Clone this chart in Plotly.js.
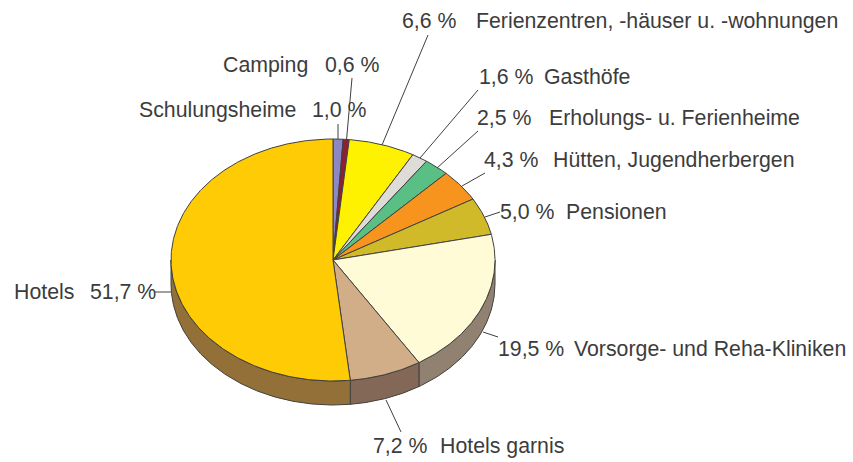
<!DOCTYPE html>
<html><head><meta charset="utf-8">
<script src="https://cdn.plot.ly/plotly-3.0.1.min.js"></script>
<style>html,body{margin:0;padding:0;background:#fff}#c{width:853px;height:462px}</style>
</head><body><div id="c"></div>
<script>
const categories = ["Schulungsheime","Camping","Ferienzentren, -häuser u. -wohnungen","Gasthöfe","Erholungs- u. Ferienheime","Hütten, Jugendherbergen","Pensionen","Vorsorge- und Reha-Kliniken","Hotels garnis","Hotels"];
const values = [1.0,0.6,6.6,1.6,2.5,4.3,5.0,19.5,7.2,51.7];
const valueLabels = ["1,0 %","0,6 %","6,6 %","1,6 %","2,5 %","4,3 %","5,0 %","19,5 %","7,2 %","51,7 %"];

const topColors = ["#8d88c4","#8e2035","#fff200","#dfdbd7","#5abf85","#f7941d","#d0ba2a","#fffbd6","#d2ae88","#ffcb05"];
const sideColors = ["#6a6693","#6a1828","#bfb500","#a7a4a1","#438f64","#b96f16","#9c8c20","#918170","#836857","#937038"];
const lineColor = "#404040", textColor = "#3c3c3c";

// Layout of the pie and label placement, in page pixels
const cx = 333, cy = 260, rx = 162, ry = 121, depth = 24;
const catX = [138,222,475,543,548,552,565,573,439,13];
const valX = [311,324,401,478,476,483,499,497,372,89];
const labY = [110,65,21,77,118,160,212,349,446,292];
const leadFrom = [[338,139],[346.5,140],[382,145],[420,158],[437,168],[462,186],[485,217],[483,332],[386,400],[171,292]];
const leadTo = [[338,124],[352,78],[428,35],[478,90],[478,131],[485,173],[500,212],[498,337],[401,432],[155,292]];

const total = values.reduce((a,b)=>a+b,0);
const px = t => cx + rx*Math.sin(t), py = t => cy - ry*Math.cos(t);
const arc = (a,b) => { const n = Math.max(2,Math.ceil((b-a)/0.01)), o=[]; for(let i=0;i<=n;i++) o.push(a+(b-a)*i/n); return o; };

const traces = [];
const angles = []; let acc = 0;
values.forEach(v => { const a = acc/total*2*Math.PI; acc += v; angles.push([a, acc/total*2*Math.PI]); });

// Side wall: only the front half of the rim (angle 90 to 270 degrees) is visible
angles.forEach(([a,b],i) => {
  const s = Math.max(a,Math.PI/2), e = Math.min(b,3*Math.PI/2);
  if (e <= s) return;
  const ts = arc(s,e);
  const x = ts.map(px).concat(ts.slice().reverse().map(px)); x.push(x[0]);
  const y = ts.map(t=>py(t)+depth).concat(ts.slice().reverse().map(py)); y.push(y[0]);
  traces.push({type:"scatter",mode:"lines",x,y,fill:"toself",fillcolor:sideColors[i],line:{color:lineColor,width:1},hoverinfo:"skip",showlegend:false});
});
// Top face
angles.forEach(([a,b],i) => {
  const ts = arc(a,b);
  const x = [cx].concat(ts.map(px),[cx]);
  const y = [cy].concat(ts.map(py),[cy]);
  traces.push({type:"scatter",mode:"lines",x,y,fill:"toself",fillcolor:topColors[i],line:{color:lineColor,width:1},name:categories[i],text:valueLabels[i],hoverinfo:"name+text",showlegend:false});
});
// Leader lines
categories.forEach((c,i) => {
  traces.push({type:"scatter",mode:"lines",x:[leadFrom[i][0],leadTo[i][0]],y:[leadFrom[i][1],leadTo[i][1]],line:{color:lineColor,width:1},hoverinfo:"skip",showlegend:false});
});

const font = {family:"Liberation Sans, Arial, sans-serif",size:21.3,color:textColor};
const note = (x,y,text) => ({x,y,text,xref:"x",yref:"y",xanchor:"left",yanchor:"middle",showarrow:false,font,borderpad:0});
const annotations = [];
categories.forEach((c,i) => { annotations.push(note(catX[i],labY[i],c)); annotations.push(note(valX[i],labY[i],valueLabels[i])); });

Plotly.newPlot("c",traces,{
  width:853,height:462,margin:{l:0,r:0,t:0,b:0},paper_bgcolor:"#fff",plot_bgcolor:"#fff",showlegend:false,
  xaxis:{range:[0,853],visible:false,fixedrange:true},
  yaxis:{range:[462,0],visible:false,fixedrange:true},
  annotations
},{staticPlot:true,displayModeBar:false});
</script></body></html>
